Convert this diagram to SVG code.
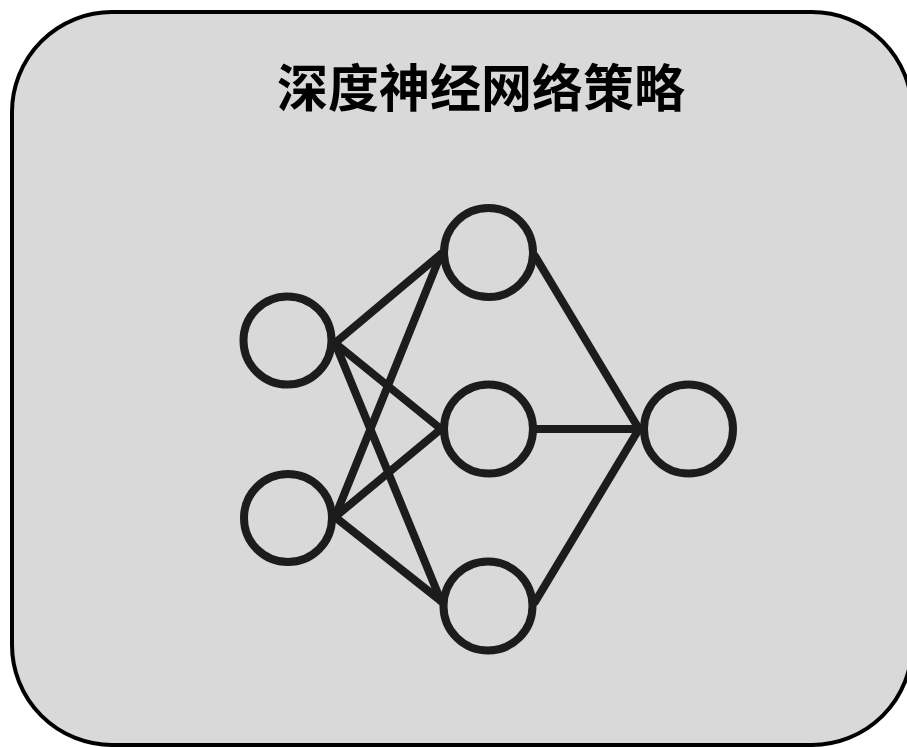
<svg xmlns="http://www.w3.org/2000/svg" width="907" height="747" viewBox="0 0 907 747">
  <defs>
    <style>
      .frame { fill: #d9d9d9; stroke: #000; stroke-width: 4; }
      .title { font-family: "Noto Sans CJK SC", "Noto Sans", sans-serif; font-weight: bold; font-size: 51px; fill: #000; }
      .node { fill: none; stroke: #1c1c1c; stroke-width: 8; }
      .edge { stroke: #1c1c1c; stroke-width: 8; stroke-linecap: round; fill: none; }
    </style>
    <clipPath id="netclip">
      <rect x="200" y="180" width="600" height="477"/>
    </clipPath>
  </defs>

  <g id="frame">
    <rect class="frame" x="12" y="12" width="900" height="733" rx="100" ry="100"/>
    <text class="title" x="481" y="107" text-anchor="middle">深度神经网络策略</text>
  </g>

  <g clip-path="url(#netclip)">
    <g id="connectors">
      <line class="edge" x1="335" y1="343" x2="441" y2="254"/>
      <line class="edge" x1="335" y1="343" x2="441" y2="429"/>
      <line class="edge" x1="335" y1="343" x2="441" y2="601"/>
      <line class="edge" x1="335" y1="517" x2="441" y2="254"/>
      <line class="edge" x1="335" y1="517" x2="441" y2="429"/>
      <line class="edge" x1="335" y1="517" x2="441" y2="601"/>
      <line class="edge" x1="535" y1="256" x2="639" y2="429"/>
      <line class="edge" x1="536" y1="429" x2="639" y2="429"/>
      <line class="edge" x1="535" y1="602" x2="639" y2="429"/>
    </g>
    <g id="input1"><circle class="node" cx="287.5" cy="340.5" r="44"/></g>
    <g id="input2"><circle class="node" cx="288" cy="518" r="44"/></g>
    <g id="hidden1"><circle class="node" cx="488.5" cy="252.5" r="44.5"/></g>
    <g id="hidden2"><circle class="node" cx="488.5" cy="429" r="44.5"/></g>
    <g id="hidden3"><circle class="node" cx="488" cy="606" r="44.5"/></g>
    <g id="output"><circle class="node" cx="688.5" cy="429" r="44.5"/></g>
  </g>
</svg>
